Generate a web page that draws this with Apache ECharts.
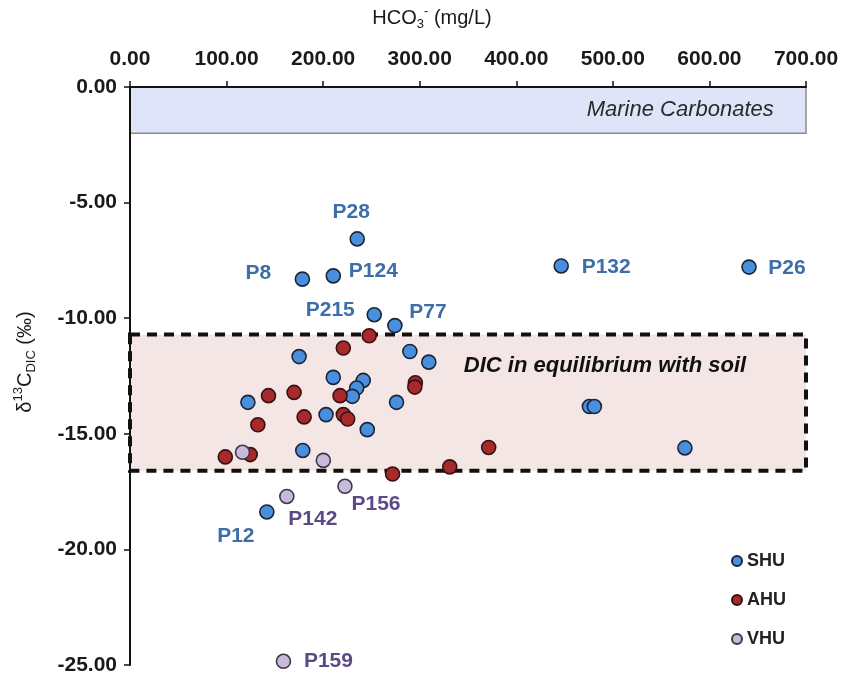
<!DOCTYPE html>
<html><head><meta charset="utf-8">
<script src="https://cdn.jsdelivr.net/npm/echarts@6/dist/echarts.min.js"></script>
<style>html,body{margin:0;padding:0;background:#fff}#c{width:854px;height:682px}</style>
</head><body><div id="c"></div>
<script>
// ---- data ----
const xTicks = [0, 100, 200, 300, 400, 500, 600, 700];
const yTicks = [0, -5, -10, -15, -20, -25];

const shuX = [235.3, 178.5, 210.5, 252.9, 274.3, 446.5, 641, 475.7, 480.9, 574.6, 309.4, 175.1, 289.8, 210.5, 241.5, 234.7, 230.2, 122.1, 276, 203, 245.7, 178.9, 141.7];
const shuY = [-6.57, -8.31, -8.17, -9.85, -10.32, -7.74, -7.79, -13.82, -13.82, -15.61, -11.9, -11.66, -11.44, -12.56, -12.69, -13.02, -13.38, -13.64, -13.64, -14.17, -14.82, -15.72, -18.38];
const shuNames = ['P28', 'P8', 'P124', 'P215', 'P77', 'P132', 'P26', '', '', '', '', '', '', '', '', '', '', '', '', '', '', '', 'P12'];

const ahuX = [247.7, 220.9, 143.4, 169.9, 217.5, 295.5, 294.9, 180.3, 220.9, 225.4, 132.4, 98.7, 124.5, 271.9, 331.1, 371.4];
const ahuY = [-10.76, -11.29, -13.35, -13.21, -13.35, -12.79, -12.98, -14.27, -14.17, -14.36, -14.61, -16.0, -15.9, -16.74, -16.43, -15.59];

const vhuX = [116.5, 200.2, 222.6, 162.4, 158.9];
const vhuY = [-15.8, -16.15, -17.27, -17.71, -24.84];
const vhuNames = ['', '', 'P156', 'P142', 'P159'];

const marineRange = [0, -2];
const soilRange = [-10.7, -16.6];

// ---- styles ----
const FONT = '"Liberation Sans", Arial, sans-serif';
const labelOffsets = {
  P28: [-6, -27], P8: [-44, -6], P124: [40, -5], P215: [-44, -5], P77: [33, -13],
  P132: [45, 1], P26: [38, 1], P12: [-31, 24], P142: [26, 23], P156: [31, 18], P159: [45, 0]
};

function build(xs, ys, names, labelColor) {
  return xs.map((x, i) => {
    const n = names ? names[i] : '';
    const item = { value: [x, ys[i]], name: n || '' };
    if (n) {
      item.label = {
        show: true, position: 'inside', formatter: '{b}', offset: labelOffsets[n] || [0, 0],
        color: labelColor, fontSize: 21, fontWeight: 'bold', fontFamily: FONT
      };
    }
    return item;
  });
}

const chart = echarts.init(document.getElementById('c'), null, { renderer: 'canvas' });

const option = {
  backgroundColor: '#ffffff',
  animation: false,
  grid: { left: 130, right: 48, top: 87, bottom: 17, containLabel: false },
  xAxis: {
    type: 'value', position: 'top',
    min: xTicks[0], max: xTicks[xTicks.length - 1], interval: xTicks[1] - xTicks[0],
    z: 10,
    axisLine: { show: true, onZero: false, lineStyle: { color: '#111', width: 2 } },
    axisTick: { show: true, inside: false, length: 6, lineStyle: { color: '#111', width: 1.5 } },
    axisLabel: { margin: 17, color: '#1a1a1a', fontSize: 21, fontWeight: 'bold', fontFamily: FONT,
      formatter: v => v.toFixed(2) },
    splitLine: { show: false }
  },
  yAxis: {
    type: 'value',
    min: yTicks[yTicks.length - 1], max: yTicks[0], interval: yTicks[0] - yTicks[1],
    z: 10,
    axisLine: { show: true, onZero: false, lineStyle: { color: '#111', width: 2 } },
    axisTick: { show: true, inside: false, length: 6, lineStyle: { color: '#111', width: 1.5 } },
    axisLabel: { margin: 13, color: '#1a1a1a', fontSize: 21, fontWeight: 'bold', fontFamily: FONT,
      formatter: v => v.toFixed(2) },
    splitLine: { show: false }
  },
  legend: {
    data: ['SHU', 'AHU', 'VHU'],
    orient: 'vertical', left: 726, top: 546,
    icon: 'circle', itemWidth: 10, itemHeight: 10, itemGap: 19,
    textStyle: { color: '#222', fontSize: 18, fontWeight: 'bold', fontFamily: FONT, lineHeight: 20 }
  },
  graphic: [
    {
      type: 'text', x: 432, y: 18, z: 20,
      style: {
        text: 'HCO{sub|3}{sup|-} (mg/L)', align: 'center', verticalAlign: 'middle',
        fontSize: 20, fontFamily: FONT, fill: '#1a1a1a', lineHeight: 26,
        rich: {
          sub: { fontSize: 13, fontFamily: FONT, fill: '#1a1a1a', verticalAlign: 'bottom', lineHeight: 26 },
          sup: { fontSize: 13, fontFamily: FONT, fill: '#1a1a1a', verticalAlign: 'top', lineHeight: 26 }
        }
      }
    },
    {
      type: 'text', x: 25, y: 362, rotation: Math.PI / 2, z: 20,
      style: {
        text: 'δ{sup|13}C{sub|DIC} (‰)', align: 'center', verticalAlign: 'middle',
        fontSize: 20, fontFamily: FONT, fill: '#1a1a1a', lineHeight: 26,
        rich: {
          sub: { fontSize: 13, fontFamily: FONT, fill: '#1a1a1a', verticalAlign: 'bottom', lineHeight: 26 },
          sup: { fontSize: 13, fontFamily: FONT, fill: '#1a1a1a', verticalAlign: 'top', lineHeight: 26 }
        }
      }
    }
  ],
  series: [
    {
      name: 'areas', type: 'scatter', data: [], silent: true, z: 1,
      markArea: {
        silent: true,
        data: [
          [
            { name: 'Marine Carbonates', xAxis: xTicks[0], yAxis: marineRange[0],
              itemStyle: { color: '#dfe4f8', borderColor: '#8c8c8c', borderWidth: 1.5 },
              label: { show: true, position: 'insideRight', offset: [-28, 0], color: '#2a2a2a',
                fontSize: 22, fontStyle: 'italic', fontFamily: FONT } },
            { xAxis: xTicks[xTicks.length - 1], yAxis: marineRange[1] }
          ],
          [
            { name: 'DIC in equilibrium with soil', xAxis: xTicks[0], yAxis: soilRange[0],
              itemStyle: { color: '#f4e6e5', borderColor: '#111', borderWidth: 4, borderType: [10, 7] },
              label: { show: true, position: 'inside', offset: [137, -37], color: '#111',
                fontSize: 22, fontStyle: 'italic', fontWeight: 'bold', fontFamily: FONT } },
            { xAxis: xTicks[xTicks.length - 1], yAxis: soilRange[1] }
          ]
        ]
      }
    },
    {
      name: 'SHU', type: 'scatter', symbolSize: 14, z: 3,
      itemStyle: { color: '#4a8fdd', borderColor: '#1a2638', borderWidth: 1.6, opacity: 1 },
      data: build(shuX, shuY, shuNames, '#3d6ea8')
    },
    {
      name: 'AHU', type: 'scatter', symbolSize: 14, z: 4,
      itemStyle: { color: '#a8292b', borderColor: '#361212', borderWidth: 1.6, opacity: 1 },
      data: build(ahuX, ahuY, null, '#a8292b')
    },
    {
      name: 'VHU', type: 'scatter', symbolSize: 14, z: 5,
      itemStyle: { color: '#c9b9dd', borderColor: '#3a3a42', borderWidth: 1.6, opacity: 1 },
      data: build(vhuX, vhuY, vhuNames, '#5b4a88')
    }
  ]
};
chart.setOption(option);
</script>
</body></html>
